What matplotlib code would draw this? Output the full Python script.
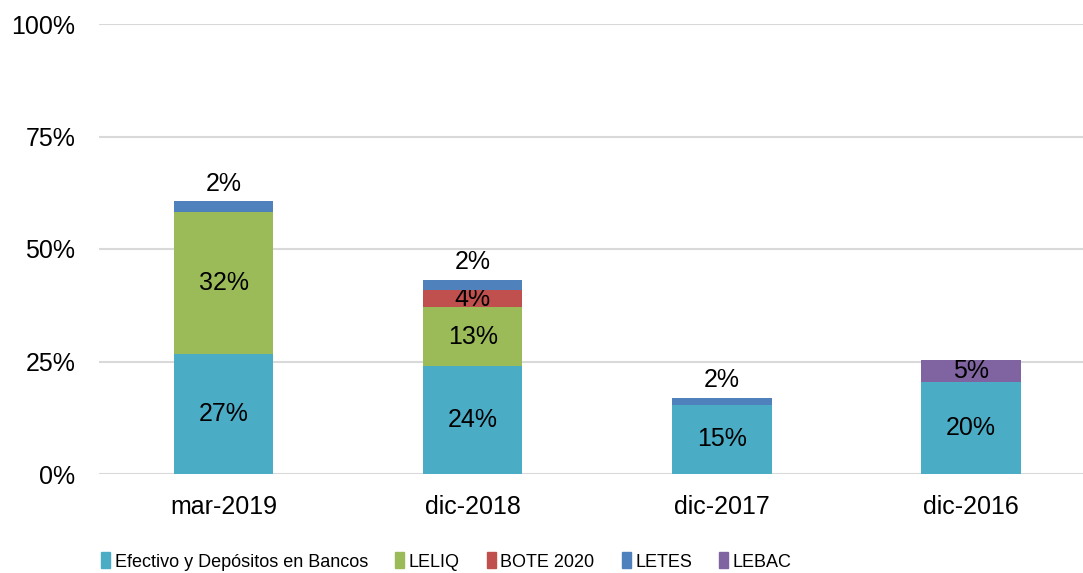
import matplotlib
matplotlib.use('Agg')
import matplotlib.pyplot as plt
from matplotlib.patches import Patch
import numpy as np

plt.rcParams['font.family'] = ['Liberation Sans', 'DejaVu Sans']

categories = ['mar-2019', 'dic-2018', 'dic-2017', 'dic-2016']
series_names = ['Efectivo y Depósitos en Bancos', 'LELIQ', 'BOTE 2020', 'LETES', 'LEBAC']
efectivo = [26.6, 23.9, 15.4, 20.4]
leliq = [31.6, 13.2, 0, 0]
bote = [0, 3.8, 0, 0]
letes = [2.4, 2.2, 1.5, 0]
lebac = [0, 0, 0, 4.9]
colors = ['#4BACC6', '#9BBB59', '#C0504D', '#4F81BD', '#8064A2']

series = [efectivo, leliq, bote, letes, lebac]
# this segment is thin, its label goes above the bar
small = 'LETES'

fig = plt.figure(figsize=(10.83, 5.73), dpi=100)
ax = fig.add_axes([99 / 1083, 1 - 474 / 573, 1 - 99 / 1083, 450 / 573])

x = np.arange(len(categories))
bottom = np.zeros(len(categories))
for name, vals, c in zip(series_names, series, colors):
    vals = np.array(vals, dtype=float)
    ax.bar(x, vals, width=0.4, bottom=bottom, color=c, zorder=3)
    for i, v in enumerate(vals):
        if v <= 0:
            continue
        lbl = '{:.0f}%'.format(v)
        if name == small:
            ax.annotate(lbl, xy=(x[i], bottom[i] + v), xytext=(0, 4),
                        textcoords='offset points', ha='center', va='bottom', fontsize=18)
        else:
            ax.text(x[i], bottom[i] + v / 2, lbl, ha='center', va='center', fontsize=18)
    bottom += vals

ax.set_xlim(-0.5, 3.45)
ax.set_ylim(0, 100)
ax.set_yticks([0, 25, 50, 75, 100])
ax.set_yticklabels(['0%', '25%', '50%', '75%', '100%'])
ax.set_xticks(x)
ax.set_xticklabels(categories)
ax.tick_params(length=0, labelsize=18)
ax.tick_params(axis='y', pad=17)
ax.tick_params(axis='x', pad=15)
ax.grid(axis='y', color='#D9D9D9', linewidth=1.5, zorder=0)
for s in ax.spines.values():
    s.set_visible(False)

handles = [Patch(color=c) for c in colors]
fig.legend(handles, series_names, loc='lower left', bbox_to_anchor=(85 / 1083, -0.024),
           ncol=5, frameon=False, handlelength=0.5, handleheight=1.0,
           handletextpad=0.25, columnspacing=1.5,
           prop={'family': ['Liberation Sans Narrow', 'Liberation Sans'], 'size': 13})

fig.savefig('out.png', dpi=100)
